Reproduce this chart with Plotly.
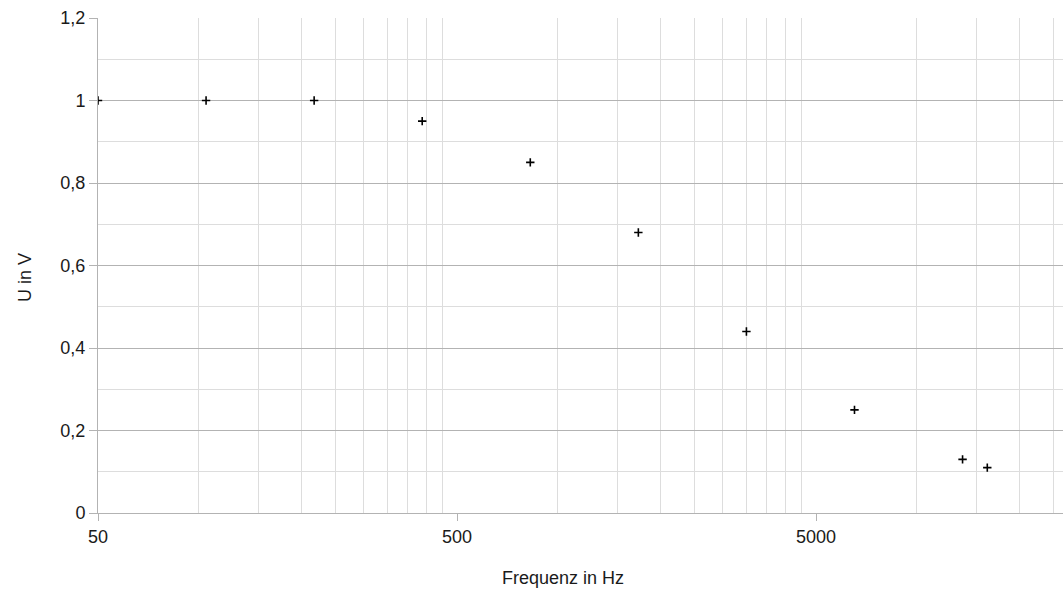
import math
import plotly.graph_objects as go

freq_hz = [50, 100, 200, 400, 800, 1600, 3200, 6400, 12800, 15000]
u_volt = [1.0, 1.0, 1.0, 0.95, 0.85, 0.68, 0.44, 0.25, 0.13, 0.11]

x_major_ticks = [50, 500, 5000]
x_minor_ticks = [50 + 45 * k for k in range(1, 10)] + \
                [500 + 450 * k for k in range(1, 10)] + \
                [5000 + 4500 * k for k in range(1, 5)]
y_ticks = [0, 0.2, 0.4, 0.6, 0.8, 1.0, 1.2]

x_title = "Frequenz in Hz"
y_title = "U in V"

FONT = "Liberation Sans, Arial, sans-serif"

fig = go.Figure()
fig.add_trace(go.Scatter(
    x=freq_hz, y=u_volt, mode="markers",
    marker=dict(symbol="cross-thin", size=6, color="black",
                line=dict(color="black", width=1.6)),
    showlegend=False,
))

x_lo = math.log10(50)
x_hi = x_lo + 965 / 359

fig.update_layout(
    width=1063, height=590,
    margin=dict(l=98, r=0, t=18, b=77),
    paper_bgcolor="white", plot_bgcolor="white",
    separators=",.",
    font=dict(family=FONT, size=17, color="#1a1a1a"),
    xaxis=dict(
        type="log", range=[x_lo, x_hi],
        tickmode="array", tickvals=x_major_ticks,
        ticktext=[str(v) for v in x_major_ticks],
        showgrid=False, zeroline=False,
        showline=True, linecolor="#b3b3b3", linewidth=1,
        ticks="outside", ticklen=7, tickcolor="#b3b3b3",
        tickfont=dict(size=18),
        minor=dict(tickmode="array", tickvals=x_minor_ticks,
                   showgrid=True, gridcolor="#dddddd", gridwidth=1, ticks=""),
    ),
    yaxis=dict(
        range=[0, 1.2],
        tickmode="array", tickvals=y_ticks,
        showgrid=True, gridcolor="#b3b3b3", gridwidth=1,
        zeroline=False,
        showline=True, linecolor="#b3b3b3", linewidth=1,
        ticks="outside", ticklen=8, tickcolor="#b3b3b3",
        tickfont=dict(size=18),
        minor=dict(dtick=0.1, tick0=0, showgrid=True,
                   gridcolor="#dddddd", gridwidth=1, ticks=""),
    ),
    annotations=[
        dict(text=x_title, xref="paper", yref="paper",
             x=(563 - 98) / 965, y=(513 - 578) / 495,
             xanchor="center", yanchor="middle", showarrow=False,
             font=dict(size=18)),
        dict(text=y_title, xref="paper", yref="paper",
             x=(25 - 98) / 965, y=(513 - 278) / 495, textangle=-90,
             xanchor="center", yanchor="middle", showarrow=False,
             font=dict(size=18)),
    ],
)

fig.write_html("out.html")
